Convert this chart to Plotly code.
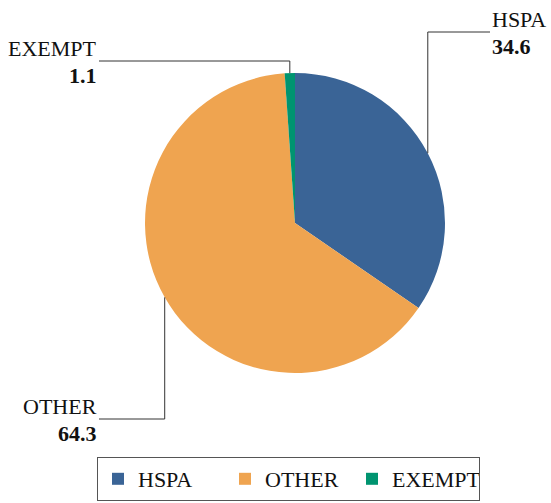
import math
import plotly.graph_objects as go

labels = ["HSPA", "OTHER", "EXEMPT"]
values = [34.6, 64.3, 1.1]
colors = ["#3A6496", "#EFA450", "#009470"]

W, H = 551, 503
CX, CY, R = 295, 223, 150  # pie centre / radius in pixels

fig = go.Figure(go.Pie(
    labels=labels, values=values, sort=False, direction="clockwise",
    marker=dict(colors=colors, line=dict(width=0)),
    textinfo="none", hoverinfo="label+value",
    domain=dict(x=[(CX - R) / W, (CX + R) / W], y=[1 - (CY + R) / H, 1 - (CY - R) / H]),
))

def px(x):
    return x / W

def py(y):
    return 1 - y / H

# leader-line layout: (elbow y, text x, side)
label_layout = {
    "HSPA": dict(ly=32, tx=490, side="right"),
    "OTHER": dict(ly=419, tx=99, side="left"),
    "EXEMPT": dict(ly=61, tx=99, side="left"),
}

total = sum(values)
cum = 0
font = "Liberation Serif, Times New Roman, serif"
FS = 22
shapes, annos = [], []
for lab, v in zip(labels, values):
    mid = (cum + v / 2) / total * 2 * math.pi
    cum += v
    ex = CX + R * math.sin(mid)
    ey = CY - R * math.cos(mid)
    L = label_layout[lab]
    pts = [(ex, ey), (ex, L["ly"]), (L["tx"], L["ly"])]
    path = "M " + " L ".join(f"{px(a)},{py(b)}" for a, b in pts)
    shapes.append(dict(type="path", xref="paper", yref="paper", path=path,
                       line=dict(color="#333333", width=1)))
    xanchor = "left" if L["side"] == "right" else "right"
    annos.append(dict(x=px(L["tx"]), y=py(L["ly"]), xref="paper", yref="paper",
                      text=lab, showarrow=False, xanchor=xanchor, yanchor="bottom",
                      yshift=-2, font=dict(family=font, size=FS, color="#111111")))
    annos.append(dict(x=px(L["tx"]), y=py(L["ly"]), xref="paper", yref="paper",
                      text=f"<b>{v}</b>", showarrow=False, xanchor=xanchor, yanchor="top",
                      yshift=0, font=dict(family=font, size=FS, color="#111111")))

fig.update_layout(
    width=W, height=H,
    margin=dict(l=0, r=0, t=0, b=0),
    paper_bgcolor="white", plot_bgcolor="white",
    shapes=shapes, annotations=annos,
    showlegend=True,
    legend=dict(orientation="h", x=px(97), y=py(501), xanchor="left", yanchor="bottom",
                bordercolor="#555555", borderwidth=1,
                entrywidth=82, entrywidthmode="pixels",
                font=dict(family=font, size=22, color="#111111"),
                traceorder="normal"),
)

fig.write_html("out.html", config={"displayModeBar": False},
               post_script="document.body.style.margin='0';document.body.style.overflow='hidden';")
